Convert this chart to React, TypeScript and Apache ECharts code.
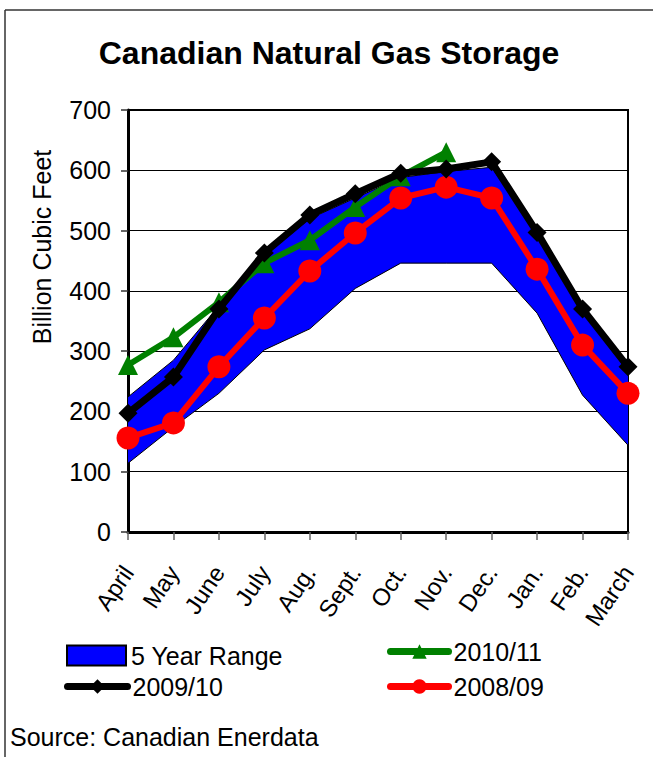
import React, { useEffect, useRef } from 'react';
import * as echarts from 'echarts';

const months = ['April', 'May', 'June', 'July', 'Aug.', 'Sept.', 'Oct.', 'Nov.', 'Dec.', 'Jan.', 'Feb.', 'March'];
const fiveYearLow = [114, 174, 230, 302, 337, 404, 446, 446, 446, 363, 227, 144];
const fiveYearHigh = [224, 285, 375, 458, 520, 554, 588, 598, 605, 495, 365, 266];
const gas2010_11 = [277, 323, 381, 446, 484, 539, 590, 630];
const gas2009_10 = [197, 257, 370, 463, 526, 561, 595, 602, 614, 497, 370, 274];
const gas2008_09 = [156, 181, 274, 355, 433, 496, 554, 572, 554, 436, 310, 230];

const FONT = "'Liberation Sans', Arial, sans-serif";

export default function App() {
  const ref = useRef<HTMLDivElement>(null);

  useEffect(() => {
    document.body.style.margin = '0';
    const chart = echarts.init(ref.current!, null, { renderer: 'svg' });
    const rangeSpan = fiveYearHigh.map((v, i) => v - fiveYearLow[i]);
    const legendText = { fontSize: 25, fontFamily: FONT, color: '#000' };
    const lineLegendText = { ...legendText, padding: [12, 0, 0, 0] };
    const lineLegendStyle = { width: 7, cap: 'round' };

    chart.setOption({
      animation: false,
      backgroundColor: '#fff',
      grid: {
        left: 128, right: 25, top: 110, bottom: 225,
        show: true, borderColor: '#000', borderWidth: 2, backgroundColor: 'transparent',
      },
      xAxis: {
        type: 'category',
        data: months,
        boundaryGap: false,
        axisLine: { lineStyle: { color: '#000', width: 3 } },
        axisTick: { show: true, length: 8, lineStyle: { color: '#666', width: 1.5 } },
        axisLabel: { rotate: 56, interval: 0, fontSize: 24, fontFamily: FONT, color: '#000', margin: 36 },
        splitLine: { show: false },
      },
      yAxis: {
        type: 'value',
        min: 0, max: 700, interval: 100,
        axisLine: { show: true, lineStyle: { color: '#000', width: 3 } },
        axisTick: { show: true, length: 7, lineStyle: { color: '#333', width: 1.5 } },
        axisLabel: { fontSize: 25, fontFamily: FONT, color: '#000', margin: 17 },
        splitLine: { lineStyle: { color: '#000', width: 1 } },
      },
      legend: [
        {
          left: 66, top: 643, itemWidth: 59, itemHeight: 20, padding: 0, selectedMode: false,
          textStyle: legendText,
          data: [{ name: '5 Year Range', icon: 'rect', itemStyle: { color: '#0000ff', borderColor: '#000', borderWidth: 2 } }],
        },
        {
          left: 387, top: 639, itemWidth: 58, itemHeight: 18, padding: 0, selectedMode: false,
          textStyle: lineLegendText, lineStyle: lineLegendStyle, data: ['2010/11'],
        },
        {
          left: 64, top: 674, itemWidth: 60, itemHeight: 18, padding: 0, selectedMode: false,
          textStyle: lineLegendText, lineStyle: lineLegendStyle, data: ['2009/10'],
        },
        {
          left: 387, top: 674, itemWidth: 58, itemHeight: 18, padding: 0, selectedMode: false,
          textStyle: lineLegendText, lineStyle: lineLegendStyle, data: ['2008/09'],
        },
      ],
      series: [
        {
          name: 'rangeLow', type: 'line', stack: 'band', data: fiveYearLow,
          symbol: 'none', lineStyle: { color: '#000', width: 1 }, itemStyle: { color: '#000' }, z: 1,
        },
        {
          name: '5 Year Range', type: 'line', stack: 'band', data: rangeSpan,
          symbol: 'none', lineStyle: { color: '#000', width: 1 },
          areaStyle: { color: '#0000ff', opacity: 1 }, itemStyle: { color: '#0000ff' }, z: 1,
        },
        {
          name: '2008/09', type: 'line', data: gas2008_09,
          symbol: 'circle', symbolSize: 23,
          lineStyle: { color: '#ff0000', width: 6 }, itemStyle: { color: '#ff0000' }, z: 3,
        },
        {
          name: '2010/11', type: 'line', data: gas2010_11,
          symbol: 'triangle', symbolSize: [20, 20],
          lineStyle: { color: '#008000', width: 6 }, itemStyle: { color: '#008000' }, z: 4,
        },
        {
          name: '2009/10', type: 'line', data: gas2009_10,
          symbol: 'diamond', symbolSize: 19,
          lineStyle: { color: '#000', width: 7 }, itemStyle: { color: '#000' }, z: 5,
        },
      ],
      graphic: [
        { type: 'line', shape: { x1: 5, y1: 10, x2: 653, y2: 10 }, style: { stroke: '#333', lineWidth: 1.5 } },
        { type: 'line', shape: { x1: 5, y1: 10, x2: 5, y2: 757 }, style: { stroke: '#333', lineWidth: 1.5 } },
        {
          type: 'text', x: 329, y: 53,
          style: { text: 'Canadian Natural Gas Storage', font: `bold 32px ${FONT}`, fill: '#000', align: 'center', verticalAlign: 'middle' },
        },
        {
          type: 'text', x: 42, y: 247, rotation: Math.PI / 2,
          style: { text: 'Billion Cubic Feet', font: `25px ${FONT}`, fill: '#000', align: 'center', verticalAlign: 'middle' },
        },
        {
          type: 'text', x: 10, y: 737,
          style: { text: 'Source: Canadian Enerdata', font: `25px ${FONT}`, fill: '#000', align: 'left', verticalAlign: 'middle' },
        },
      ],
    });
    return () => chart.dispose();
  }, []);

  return <div ref={ref} style={{ width: 653, height: 757 }} />;
}
